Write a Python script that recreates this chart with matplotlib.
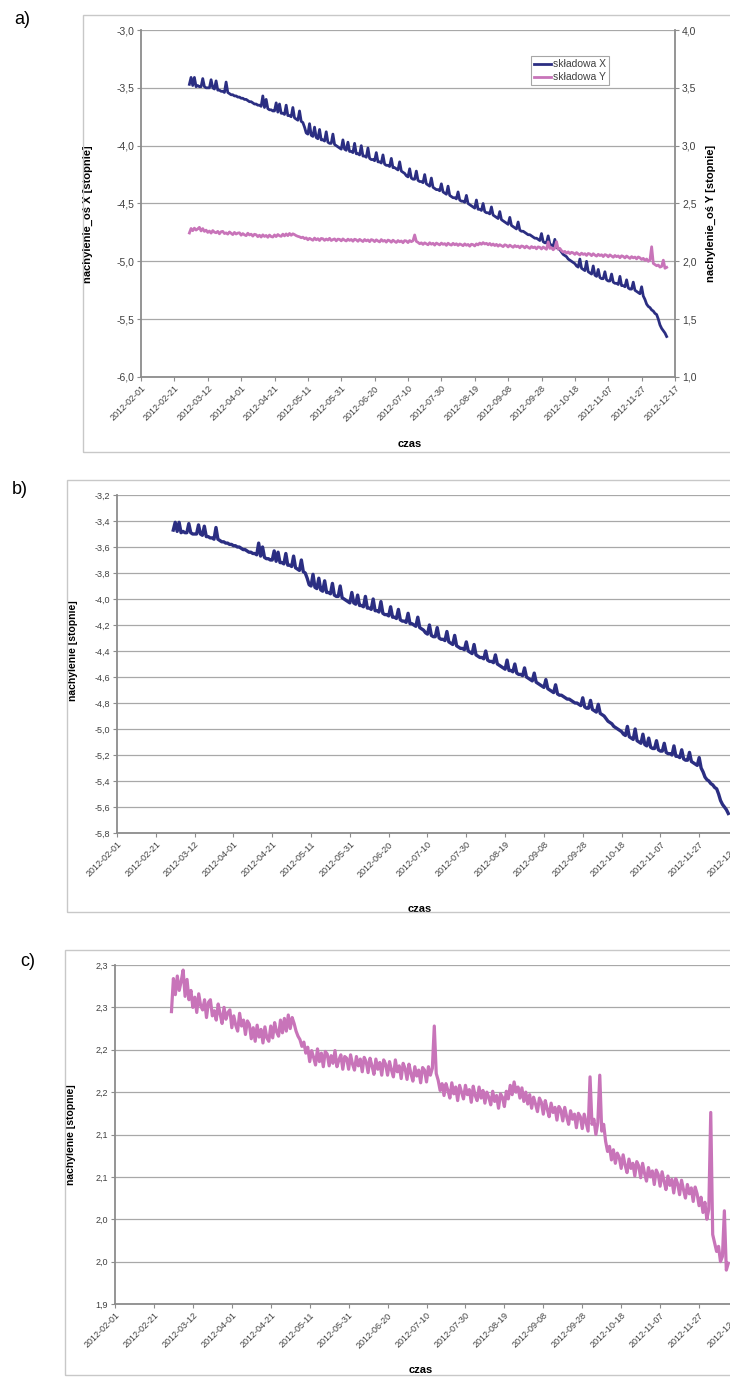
import numpy as np
import pandas as pd
import matplotlib
matplotlib.use('Agg')
from matplotlib import pyplot as plt
from matplotlib.patches import Rectangle

plt.rcParams['font.family'] = ['Liberation Sans', 'DejaVu Sans']

# daily readings from 2012-03-01
start_day = '2012-03-01'

comp_x = [
    -3.47, -3.41, -3.48, -3.41, -3.49, -3.48, -3.49, -3.49, -3.42, -3.49,
    -3.50, -3.50, -3.50, -3.43, -3.50, -3.51, -3.44, -3.52, -3.52, -3.53,
    -3.53, -3.54, -3.45, -3.54, -3.55, -3.56, -3.56, -3.57, -3.57, -3.58,
    -3.58, -3.59, -3.59, -3.60, -3.60, -3.61, -3.62, -3.62, -3.63, -3.64,
    -3.64, -3.65, -3.65, -3.66, -3.57, -3.67, -3.60, -3.68, -3.69, -3.69,
    -3.70, -3.70, -3.63, -3.71, -3.64, -3.72, -3.72, -3.73, -3.65, -3.74,
    -3.74, -3.75, -3.67, -3.76, -3.77, -3.78, -3.70, -3.79, -3.80, -3.84,
    -3.89, -3.90, -3.81, -3.91, -3.92, -3.84, -3.93, -3.94, -3.86, -3.95,
    -3.95, -3.96, -3.88, -3.97, -3.98, -3.98, -3.90, -3.99, -4.00, -4.01,
    -4.02, -4.03, -3.95, -4.03, -4.04, -3.97, -4.05, -4.05, -4.06, -3.98,
    -4.07, -4.07, -4.08, -4.00, -4.09, -4.09, -4.10, -4.02, -4.11, -4.12,
    -4.12, -4.13, -4.06, -4.14, -4.14, -4.15, -4.08, -4.16, -4.17, -4.17,
    -4.18, -4.11, -4.19, -4.19, -4.20, -4.21, -4.14, -4.22, -4.23, -4.24,
    -4.26, -4.27, -4.20, -4.28, -4.29, -4.29, -4.22, -4.30, -4.31, -4.31,
    -4.32, -4.25, -4.33, -4.34, -4.35, -4.28, -4.36, -4.37, -4.38, -4.38,
    -4.39, -4.33, -4.40, -4.41, -4.42, -4.35, -4.43, -4.44, -4.45, -4.45,
    -4.46, -4.40, -4.47, -4.48, -4.48, -4.49, -4.43, -4.50, -4.51, -4.52,
    -4.53, -4.54, -4.47, -4.55, -4.55, -4.56, -4.50, -4.57, -4.58, -4.58,
    -4.59, -4.53, -4.60, -4.61, -4.62, -4.63, -4.57, -4.64, -4.65, -4.66,
    -4.67, -4.68, -4.62, -4.69, -4.70, -4.71, -4.72, -4.66, -4.73, -4.74,
    -4.74, -4.75, -4.76, -4.77, -4.77, -4.78, -4.79, -4.80, -4.80, -4.81,
    -4.82, -4.76, -4.83, -4.84, -4.84, -4.78, -4.85, -4.86, -4.87, -4.81,
    -4.88, -4.89, -4.90, -4.92, -4.94, -4.95, -4.96, -4.98, -4.99, -5.00,
    -5.01, -5.02, -5.04, -5.05, -4.98, -5.06, -5.07, -5.08, -5.00, -5.09,
    -5.10, -5.11, -5.04, -5.12, -5.13, -5.07, -5.14, -5.15, -5.15, -5.09,
    -5.16, -5.17, -5.17, -5.11, -5.18, -5.19, -5.19, -5.20, -5.13, -5.21,
    -5.21, -5.22, -5.16, -5.23, -5.24, -5.24, -5.18, -5.25, -5.26, -5.27,
    -5.28, -5.22, -5.30, -5.33, -5.37, -5.39, -5.40, -5.42, -5.43, -5.45,
    -5.46, -5.50, -5.55, -5.58, -5.60, -5.62, -5.65,
]

comp_y = [
    2.245, 2.284, 2.265, 2.287, 2.270, 2.281, 2.294, 2.263, 2.283, 2.259,
    2.270, 2.250, 2.262, 2.244, 2.266, 2.252, 2.247, 2.259, 2.238, 2.256,
    2.259, 2.240, 2.246, 2.235, 2.254, 2.242, 2.231, 2.250, 2.236, 2.244,
    2.247, 2.226, 2.240, 2.229, 2.222, 2.243, 2.228, 2.235, 2.218, 2.234,
    2.230, 2.213, 2.226, 2.210, 2.229, 2.215, 2.224, 2.208, 2.227, 2.214,
    2.210, 2.228, 2.214, 2.232, 2.221, 2.216, 2.235, 2.220, 2.237, 2.222,
    2.241, 2.225, 2.238, 2.231, 2.222, 2.216, 2.212, 2.204, 2.209, 2.196,
    2.203, 2.186, 2.199, 2.191, 2.182, 2.201, 2.186, 2.196, 2.180, 2.198,
    2.195, 2.181, 2.193, 2.184, 2.199, 2.180, 2.188, 2.194, 2.177, 2.192,
    2.190, 2.177, 2.194, 2.183, 2.176, 2.192, 2.181, 2.189, 2.174, 2.191,
    2.186, 2.173, 2.190, 2.181, 2.171, 2.189, 2.177, 2.185, 2.170, 2.188,
    2.183, 2.170, 2.186, 2.176, 2.168, 2.188, 2.174, 2.181, 2.166, 2.184,
    2.178, 2.165, 2.183, 2.172, 2.163, 2.180, 2.169, 2.176, 2.161, 2.179,
    2.176, 2.162, 2.180, 2.170, 2.178, 2.228, 2.172, 2.164, 2.152, 2.160,
    2.146, 2.160, 2.152, 2.143, 2.161, 2.148, 2.156, 2.140, 2.158, 2.150,
    2.142, 2.158, 2.147, 2.153, 2.138, 2.157, 2.146, 2.140, 2.156, 2.143,
    2.152, 2.137, 2.150, 2.144, 2.135, 2.151, 2.139, 2.146, 2.131, 2.148,
    2.144, 2.133, 2.151, 2.142, 2.158, 2.147, 2.162, 2.150, 2.156, 2.143,
    2.155, 2.139, 2.150, 2.136, 2.147, 2.131, 2.144, 2.136, 2.127, 2.143,
    2.138, 2.124, 2.140, 2.130, 2.121, 2.137, 2.126, 2.132, 2.117, 2.133,
    2.129, 2.116, 2.132, 2.121, 2.112, 2.128, 2.118, 2.124, 2.108, 2.125,
    2.121, 2.107, 2.124, 2.114, 2.104, 2.168, 2.112, 2.118, 2.100, 2.114,
    2.170, 2.104, 2.112, 2.092, 2.080, 2.086, 2.070, 2.082, 2.066, 2.078,
    2.073, 2.060, 2.076, 2.064, 2.055, 2.071, 2.060, 2.066, 2.051, 2.068,
    2.063, 2.049, 2.066, 2.054, 2.045, 2.061, 2.050, 2.057, 2.041, 2.058,
    2.053, 2.039, 2.056, 2.045, 2.035, 2.051, 2.040, 2.047, 2.031, 2.048,
    2.042, 2.029, 2.046, 2.035, 2.025, 2.041, 2.030, 2.037, 2.021, 2.038,
    2.030, 2.016, 2.026, 2.008, 2.020, 2.000, 2.012, 2.126, 1.982, 1.972,
    1.962, 1.968, 1.950, 1.956, 2.010, 1.940, 1.948,
]

tick_labels = ['2012-02-01', '2012-02-21', '2012-03-12', '2012-04-01', '2012-04-21',
               '2012-05-11', '2012-05-31', '2012-06-20', '2012-07-10', '2012-07-30',
               '2012-08-19', '2012-09-08', '2012-09-28', '2012-10-18', '2012-11-07',
               '2012-11-27', '2012-12-17']

a_left_ticks = [-6.0, -5.5, -5.0, -4.5, -4.0, -3.5, -3.0]
a_right_ticks = [1.0, 1.5, 2.0, 2.5, 3.0, 3.5, 4.0]
b_ticks = [-5.8, -5.6, -5.4, -5.2, -5.0, -4.8, -4.6, -4.4, -4.2, -4.0, -3.8, -3.6, -3.4, -3.2]
c_ticks = [1.90, 1.95, 2.00, 2.05, 2.10, 2.15, 2.20, 2.25, 2.30]
c_tick_labels = ['1,9', '2,0', '2,0', '2,1', '2,1', '2,2', '2,2', '2,3', '2,3']

BLUE = '#2b2e82'
PINK = '#c874b9'
GRID = '#a8a8a8'
AXC = '#8c8c8c'
TXT = '#404040'

W, H = 730, 1382
dates = pd.date_range(start_day, periods=len(comp_x), freq='D')
tick_dates = pd.to_datetime(tick_labels)


def px_axes(l, t, r, b):
    return [l / W, 1 - b / H, (r - l) / W, (b - t) / H]


def comma(v, nd=1):
    return f"{v:.{nd}f}".replace('.', ',')


def setup(ax, yticks, ylabels, fs):
    ax.set_xlim(tick_dates[0], tick_dates[-1])
    ax.set_yticks(yticks)
    ax.set_yticklabels(ylabels, fontsize=fs, color=TXT)
    ax.set_ylim(yticks[0], yticks[-1])
    ax.set_xticks(tick_dates)
    ax.set_xticklabels(tick_labels, rotation=45, ha='right', rotation_mode='anchor',
                       fontsize=6.5, color=TXT)
    ax.grid(axis='y', color=GRID, lw=0.9)
    ax.set_axisbelow(True)
    for s in ['top', 'right']:
        ax.spines[s].set_visible(False)
    for s in ['left', 'bottom']:
        ax.spines[s].set_color(AXC)
        ax.spines[s].set_linewidth(1.3)
    ax.tick_params(axis='both', direction='out', length=3, color=AXC, pad=2)
    ax.set_xlabel('czas', fontsize=8, fontweight='bold')


def frame(l, t, r, b):
    fig.add_artist(Rectangle((l / W, 1 - b / H), (r - l) / W, (b - t) / H,
                             transform=fig.transFigure, fill=False,
                             edgecolor='#c8c8c8', lw=1.0))


fig = plt.figure(figsize=(W / 100, H / 100), dpi=100)
fig.patch.set_facecolor('white')

# --- a) both components, twin axes
frame(83, 15, 736, 452)
ax_a = fig.add_axes(px_axes(141, 30, 675, 377))
setup(ax_a, a_left_ticks, [comma(v) for v in a_left_ticks], 7.5)
lx, = ax_a.plot(dates, comp_x, color=BLUE, lw=2.0, label='składowa X')
ax_a.set_ylabel('nachylenie_oś X [stopnie]', fontsize=8, fontweight='bold')
ax_a.yaxis.set_label_coords(-0.09, 0.47)
ax_a.xaxis.set_label_coords(0.504, -0.18)

ax_a2 = ax_a.twinx()
ly, = ax_a2.plot(dates, comp_y, color=PINK, lw=2.0, label='składowa Y')
ax_a2.set_ylim(a_right_ticks[0], a_right_ticks[-1])
ax_a2.set_yticks(a_right_ticks)
ax_a2.set_yticklabels([comma(v) for v in a_right_ticks], fontsize=7.5, color=TXT)
for s in ['top', 'left', 'bottom']:
    ax_a2.spines[s].set_visible(False)
ax_a2.spines['right'].set_color(AXC)
ax_a2.spines['right'].set_linewidth(1.3)
ax_a2.tick_params(axis='y', direction='out', length=3, color=AXC, pad=2)
ax_a2.set_ylabel('nachylenie_oś Y [stopnie]', fontsize=8, fontweight='bold', rotation=90)
ax_a2.yaxis.set_label_coords(1.058, 0.47)

leg = ax_a2.legend(handles=[lx, ly], loc='upper left', bbox_to_anchor=(0.73, 0.925),
                   borderaxespad=0, fontsize=7.5, frameon=True, fancybox=False,
                   handlelength=1.6, handletextpad=0.2, borderpad=0.3, labelspacing=0.3)
leg.get_frame().set_edgecolor('#909090')
leg.get_frame().set_linewidth(0.8)
for t in leg.get_texts():
    t.set_color(TXT)

# --- b) component X
frame(67, 480, 740, 912)
ax_b = fig.add_axes(px_axes(117, 495, 738, 833))
setup(ax_b, b_ticks, [comma(v) for v in b_ticks], 6.5)
ax_b.plot(dates, comp_x, color=BLUE, lw=2.4)
ax_b.set_ylabel('nachylenie [stopnie]', fontsize=7.5, fontweight='bold')
ax_b.yaxis.set_label_coords(-0.063, 0.54)
ax_b.xaxis.set_label_coords(0.488, -0.21)

# --- c) component Y
frame(65, 950, 740, 1375)
ax_c = fig.add_axes(px_axes(115, 965, 738, 1304))
setup(ax_c, c_ticks, c_tick_labels, 6.5)
ax_c.plot(dates, comp_y, color=PINK, lw=2.3)
ax_c.set_ylabel('nachylenie [stopnie]', fontsize=7.5, fontweight='bold')
ax_c.yaxis.set_label_coords(-0.063, 0.5)
ax_c.xaxis.set_label_coords(0.49, -0.18)

fig.text(22 / W, 1 - 20 / H, 'a)', fontsize=13, ha='center', va='center')
fig.text(20 / W, 1 - 490 / H, 'b)', fontsize=13, ha='center', va='center')
fig.text(28 / W, 1 - 961 / H, 'c)', fontsize=13, ha='center', va='center')

fig.savefig('out.png', dpi=100)
